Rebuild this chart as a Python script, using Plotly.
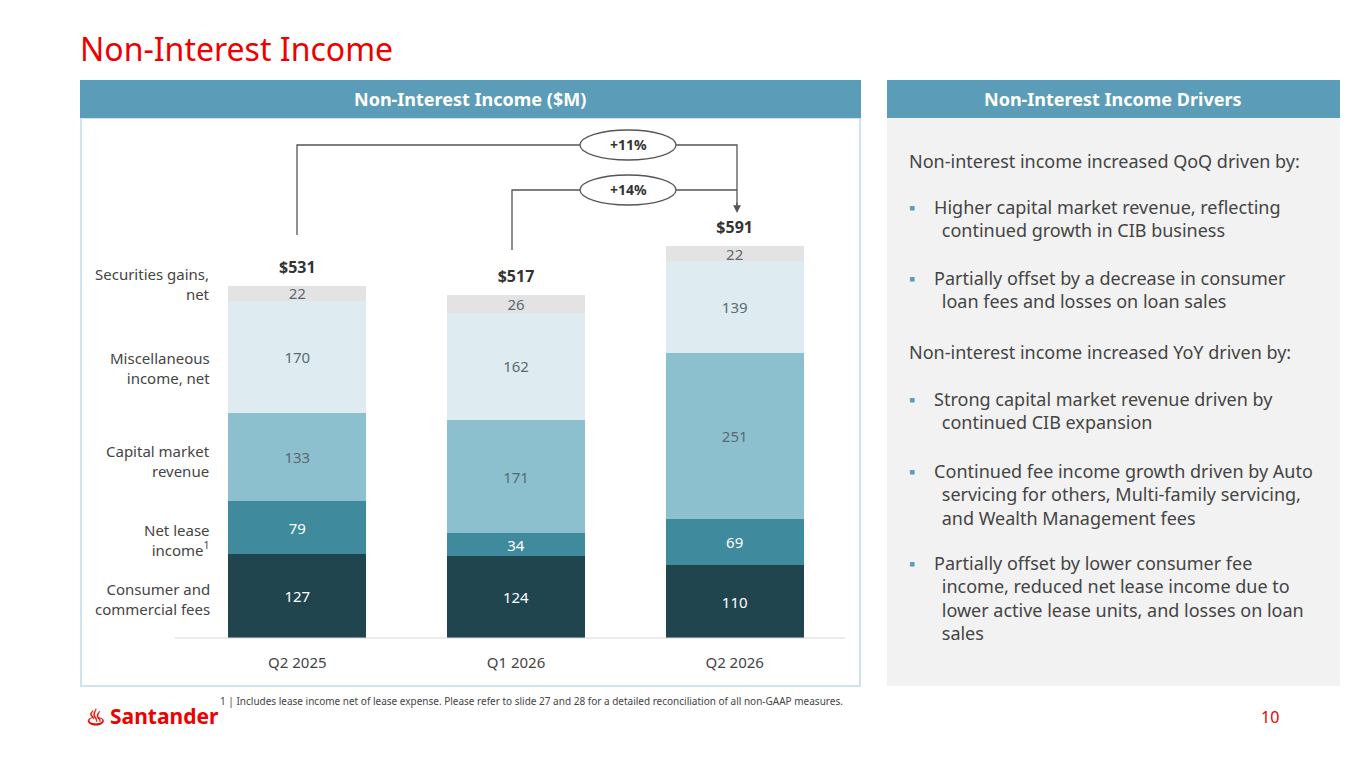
import plotly.graph_objects as go

W, H = 1365, 768
quarters = ["Q2 2025", "Q1 2026", "Q2 2026"]
series = ["Consumer and<br>commercial fees", "Net lease<br>income<sup>1</sup>", "Capital market<br>revenue",
          "Miscellaneous<br>income, net", "Securities gains,<br>net"]
consumer = [127, 124, 110]
netlease = [79, 34, 69]
capital = [133, 171, 251]
misc = [170, 162, 139]
secur = [22, 26, 22]
totals = ["$531", "$517", "$591"]
colors = ["#21454f", "#3f8a9c", "#8cc0cf", "#deecf1", "#e3e3e3"]
txtcol = ["#ffffff", "#ffffff", "#5a6a70", "#5a6a70", "#5a6a70"]
vals = [consumer, netlease, capital, misc, secur]

OFF = 8
def px(x): return (x - OFF) / W
def py(y): return 1 - (y - OFF) / H

fig = go.Figure()
for name, v, c, tc in zip(series, vals, colors, txtcol):
    fig.add_bar(x=quarters, y=v, name=name, marker_color=c, marker_line_width=0,
                text=[str(a) for a in v], textposition="inside", insidetextanchor="middle", textangle=0,
                textfont=dict(color=tc, size=15), constraintext="none")

tot = [sum(t) for t in zip(*vals)]
fig.add_scatter(x=quarters, y=[t + 26 for t in tot], mode="text", text=["<b>%s</b>" % t for t in totals],
                textfont=dict(size=16, color="#333", family="Noto Sans"), showlegend=False,
                cliponaxis=False, textposition="middle center")

fig.update_layout(
    width=W, height=H, margin=dict(l=0, r=0, t=0, b=0), paper_bgcolor="white", plot_bgcolor="rgba(0,0,0,0)",
    barmode="stack", bargap=0.37, showlegend=False, font=dict(family="Noto Sans", color="#444"),
    xaxis=dict(domain=[px(188), px(844)], range=[-0.5, 2.5], showgrid=False, tickfont=dict(size=15, color="#444"),
               ticks="", showline=False, ticklabelstandoff=14),
    yaxis=dict(domain=[py(638), py(141)], range=[0, 750], visible=False),
)
shapes = []
shapes.append(dict(type="line", xref="paper", yref="paper", x0=px(175), x1=px(845), y0=py(638), y1=py(638),
                   line=dict(color="#d8d8d8", width=1)))
shapes.append(dict(type="rect", xref="paper", yref="paper", x0=px(81), x1=px(860), y0=py(686), y1=py(118),
                   line=dict(color="#cfe3ec", width=2), fillcolor="rgba(0,0,0,0)", layer="below"))
shapes.append(dict(type="rect", xref="paper", yref="paper", x0=px(80), x1=px(861), y0=py(118), y1=py(80),
                   line=dict(width=0), fillcolor="#5b9db8", layer="below"))
shapes.append(dict(type="rect", xref="paper", yref="paper", x0=px(887), x1=px(1340), y0=py(686), y1=py(118),
                   line=dict(width=0), fillcolor="#f2f2f2", layer="below"))
shapes.append(dict(type="rect", xref="paper", yref="paper", x0=px(887), x1=px(1340), y0=py(118), y1=py(80),
                   line=dict(width=0), fillcolor="#5b9db8", layer="below"))
ln = dict(color="#555", width=1.3)
shapes.append(dict(type="path", xref="paper", yref="paper",
                   path=f"M {px(297)},{py(235)} L {px(297)},{py(145)} L {px(737)},{py(145)} L {px(737)},{py(205)}",
                   line=ln))
shapes.append(dict(type="path", xref="paper", yref="paper",
                   path=f"M {px(512)},{py(250)} L {px(512)},{py(190)} L {px(737)},{py(190)}", line=ln))
for cy in (145, 190):
    shapes.append(dict(type="circle", xref="paper", yref="paper", x0=px(580), x1=px(676), y0=py(cy - 15), y1=py(cy + 15),
                       line=dict(color="#555", width=1.3), fillcolor="white"))
fig.update_layout(shapes=shapes)

ann = []
def A(x, y, t, size=15, color="#444", xa="left", align="left", **k):
    ann.append(dict(x=px(x), y=py(y), xref="paper", yref="paper", text=t, showarrow=False, yanchor="middle",
                    font=dict(size=size, color=color), xanchor=xa, align=align, **k))
A(78, 48, "Non-Interest Income", 32, "#ec0000")
A(470, 99, "<b>Non-Interest Income ($M)</b>", 18, "white", "center")
A(1113, 99, "<b>Non-Interest Income Drivers</b>", 18, "white", "center")
A(628, 145, "<b>+11%</b>", 14, "#333", "center")
A(628, 190, "<b>+14%</b>", 14, "#333", "center")
ann.append(dict(x=px(737), y=py(213), ax=0, ay=-12, xref="paper", yref="paper",
                showarrow=True, arrowhead=2, arrowsize=1.2, arrowwidth=1.3, arrowcolor="#555", text=""))
labels_y = [599, 540, 461, 368, 284]
for lab, yy in zip(series, labels_y):
    A(212, yy, lab, 15, "#444", "right", "right")
A(218, 701, "1 | Includes lease income net of lease expense. Please refer to slide 27 and 28 for a detailed reconciliation of all non-GAAP measures.",
  10, "#444")
A(1270, 717, "10", 16, "#ec0000", "center")
A(108, 716, "<b>Santander</b>", 21, "#ec0000")
A(96, 716, "<b>♨</b>", 22, "#ec0000", "center")

bul = "<span style='color:#5b9db8'>▪</span>"
FS = 18
A(907, 161, "Non-interest income increased QoQ driven by:", FS)
A(907, 219, f"{bul}    Higher capital market revenue, reflecting<br>       continued growth in CIB business", FS)
A(907, 289, f"{bul}    Partially offset by a decrease in consumer<br>       loan fees and losses on loan sales", FS)
A(907, 352, "Non-interest income increased YoY driven by:", FS)
A(907, 410, f"{bul}    Strong capital market revenue driven by<br>       continued CIB expansion", FS)
A(907, 494, f"{bul}    Continued fee income growth driven by Auto<br>       servicing for others, Multi-family servicing,<br>       and Wealth Management fees", FS)
A(907, 598, f"{bul}    Partially offset by lower consumer fee<br>       income, reduced net lease income due to<br>       lower active lease units, and losses on loan<br>       sales", FS)
fig.update_layout(annotations=ann)
fig.write_html("out.html")
